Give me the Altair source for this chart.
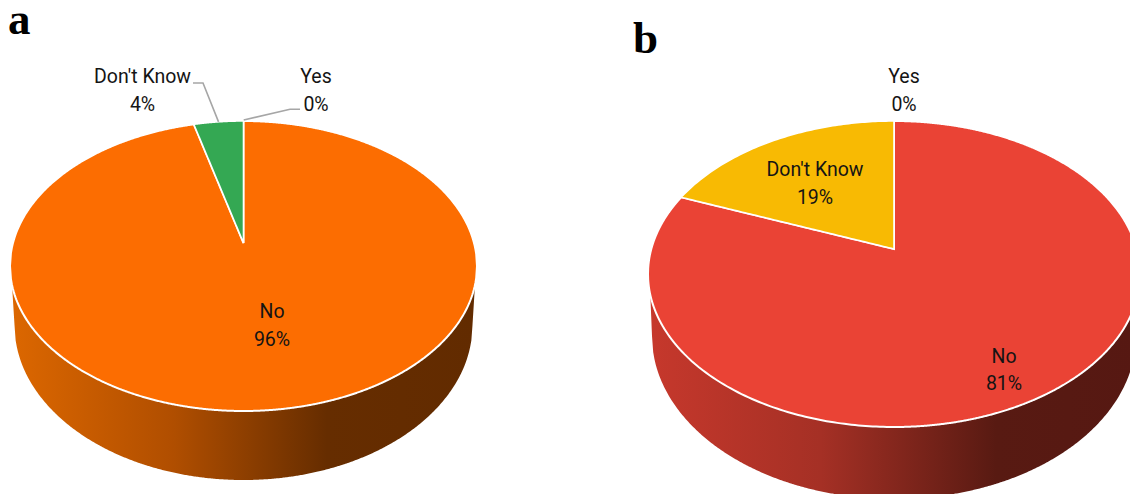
import math
import altair as alt
import pandas as pd

W, H = 1130, 494

# Survey shares, in percent, clockwise from twelve o'clock
categories = ["Yes", "No", "Don't Know"]
values_a = [0, 96, 4]
values_b = [0, 81, 19]

colors_a = {"No": "#fc6d01", "Don't Know": "#34a853"}
colors_b = {"No": "#ea4335", "Don't Know": "#f8ba03"}

# Horizontal shading of the pie's rim: (offset, colour)
wall_stops_a = [(0, "#dc6700"), (0.35, "#b04e00"), (0.68, "#662d00"), (1, "#622b00")]
wall_stops_b = [(0, "#c6382c"), (0.35, "#a53025"), (0.71, "#581a12"), (1, "#561812")]

# Pie geometry: top disc (perspective), apex, and lower rim ellipse
pie_a = dict(cx=243.5, top=121, bottom=411, apex=243, rx=233.5,
             low_rx=229, low_ry=155, low_bottom=480, wall_start=285)
pie_b = dict(cx=894, top=121, bottom=427, apex=249, rx=246,
             low_rx=242, low_ry=163, low_bottom=499, wall_start=295)

# Pixel-for-pixel scales; whatever runs past the canvas is cut by the page
sx = alt.Scale(domain=[0, W], nice=False, zero=False)
sy = alt.Scale(domain=[H, 0], nice=False, zero=False)
X = alt.X("x:Q", scale=sx, axis=None)
Y = alt.Y("y:Q", scale=sy, axis=None, stack=None)


def disc_funcs(p):
    """Rim helpers for a disc seen in perspective."""
    far, near = p["apex"] - p["top"], p["bottom"] - p["apex"]
    k = (near / far - 1) / (near / far + 1)
    b = far * (1 + k)
    a = p["rx"] * math.sqrt(1 - k * k)
    cy = (p["top"] + p["bottom"]) / 2
    ry = (p["bottom"] - p["top"]) / 2

    def rim(share):
        t = 2 * math.pi * share / 100
        d = 1 + k * math.cos(t)
        return p["cx"] + a * math.sin(t) / d, p["apex"] - b * math.cos(t) / d

    def half(x):
        u = max(0.0, 1 - ((x - p["cx"]) / p["rx"]) ** 2)
        return ry * math.sqrt(u)

    return rim, (lambda x: cy - half(x)), (lambda x: cy + half(x))


def span(x0, x1, n):
    return [x0 + (x1 - x0) * i / n for i in range(n + 1)]


def pie_layers(values, p, colors, stops):
    rim, up, low = disc_funcs(p)
    shares = dict(zip(categories, values))
    cx, rx, apex = p["cx"], p["rx"], p["apex"]
    left, right = cx - rx, cx + rx

    # Rim wall: from the disc's lower edge down to the lower ellipse
    low_cy = p["low_bottom"] - p["low_ry"]
    cy = (p["top"] + p["bottom"]) / 2
    start_dx = rx * math.sqrt(1 - ((p["wall_start"] - cy) / ((p["bottom"] - p["top"]) / 2)) ** 2)
    wall_l, wall_r = cx - start_dx, cx + start_dx
    low_l, low_r = cx - p["low_rx"], cx + p["low_rx"]

    def wall_y(x):
        if x < low_l:
            return p["wall_start"] + (low_cy - p["wall_start"]) * (x - wall_l) / (low_l - wall_l)
        if x > low_r:
            return p["wall_start"] + (low_cy - p["wall_start"]) * (wall_r - x) / (wall_r - low_r)
        return low_cy + p["low_ry"] * math.sqrt(max(0.0, 1 - ((x - cx) / p["low_rx"]) ** 2))

    xs = span(wall_l, low_l, 6) + span(low_l, low_r, 400)[1:] + span(low_r, wall_r, 6)[1:]
    wall = pd.DataFrame({"x": xs, "y": [wall_y(x) for x in xs], "y2": [low(x) for x in xs]})
    gradient = alt.Gradient(
        gradient="linear", x1=0, x2=1, y1=0, y2=0,
        stops=[alt.GradientStop(offset=o, color=c) for o, c in stops],
    )
    wall_layer = alt.Chart(wall).mark_area(color=gradient).encode(x=X, y=Y, y2=alt.Y2("y2"))

    # Wedge boundary: the "Don't Know" slice ends at twelve o'clock
    edge_x, edge_y = rim(100 - shares["Don't Know"])

    def wedge_edge(x):
        return edge_y + (apex - edge_y) * (x - edge_x) / (cx - edge_x)

    # "No" slice: the disc with the wedge notch cut from its upper edge
    rows = [(x, up(x), low(x)) for x in span(left, edge_x, 200)]
    rows += [(x, wedge_edge(x), low(x)) for x in span(edge_x, cx, 60)[1:]]
    rows += [(x, up(x), low(x)) for x in span(cx + 0.01, right, 300)]
    no = pd.DataFrame(rows, columns=["x", "y", "y2"])
    no_layer = alt.Chart(no).mark_area(
        color=colors["No"], stroke="white", strokeWidth=2
    ).encode(x=X, y=Y, y2=alt.Y2("y2"))

    # "Don't Know" wedge
    wx = span(edge_x, cx, 80)
    wedge = pd.DataFrame({"x": wx, "y": [up(x) for x in wx], "y2": [wedge_edge(x) for x in wx]})
    wedge_layer = alt.Chart(wedge).mark_area(
        color=colors["Don't Know"], stroke="white", strokeWidth=1.6
    ).encode(x=X, y=Y, y2=alt.Y2("y2"))

    return [wall_layer, no_layer, wedge_layer], rim


layers_a, rim_a = pie_layers(values_a, pie_a, colors_a, wall_stops_a)
layers_b, rim_b = pie_layers(values_b, pie_b, colors_b, wall_stops_b)

# Leader lines for the two thin slices of the left pie
dk_mid = rim_a(100 - values_a[2] / 2)
leaders = pd.DataFrame(
    [("dk", 0, 193, 83), ("dk", 1, 203, 83), ("dk", 2, dk_mid[0], dk_mid[1]),
     ("yes", 0, 243.7, 120), ("yes", 1, 290, 109.3), ("yes", 2, 300, 109.3)],
    columns=["id", "i", "x", "y"],
)
leader_layer = alt.Chart(leaders).mark_line(color="#a6a6a6", strokeWidth=1.6).encode(
    x=X, y=Y, detail="id:N", order="i:Q")

# Slice labels, two lines each
def label_rows(name, share, x, y):
    return [(name, x, y), (f"{share}%", x, y + 27.5)]


labels = pd.DataFrame(
    label_rows("Don't Know", values_a[2], 142.5, 83)
    + label_rows("Yes", values_a[0], 316, 83)
    + label_rows("No", values_a[1], 272, 318)
    + label_rows("Yes", values_b[0], 904, 83)
    + label_rows("Don't Know", values_b[2], 815, 176)
    + label_rows("No", values_b[1], 1004, 362.5),
    columns=["t", "x", "y"],
)
label_layer = alt.Chart(labels).mark_text(
    font="Roboto", fontSize=19.5, color="#141414", align="center", baseline="alphabetic"
).encode(x=X, y=Y, text="t:N")

letters = pd.DataFrame([("a", 8, 34), ("b", 633, 53)], columns=["t", "x", "y"])
letter_layer = alt.Chart(letters).mark_text(
    font="Liberation Serif", fontSize=45, fontWeight="bold", color="black", align="left", baseline="alphabetic"
).encode(x=X, y=Y, text="t:N")

chart = alt.layer(*layers_a, *layers_b, leader_layer, label_layer, letter_layer).properties(
    width=W, height=H, padding=0, autosize=alt.AutoSizeParams(type="none"), background="white"
).configure_view(stroke=None)

chart.save("out.html", embed_options={"renderer": "svg", "actions": False})
